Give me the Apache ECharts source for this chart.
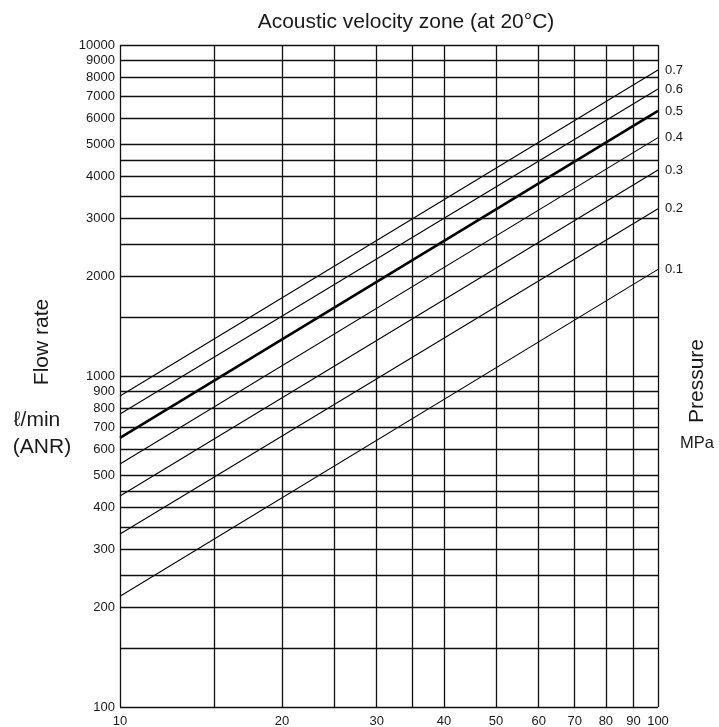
<!DOCTYPE html>
<html>
<head>
<meta charset="utf-8">
<script src="https://cdn.jsdelivr.net/npm/echarts@6/dist/echarts.min.js"></script>
<style>
html,body{margin:0;padding:0;background:#fff;}
#chart{width:719px;height:727px;}
</style>
</head>
<body>
<div id="chart"></div>
<script>
// Pressure lines (MPa): flow rate at x=10 and x=100
var pressures = ['0.1','0.2','0.3','0.4','0.5','0.6','0.7'];
var xEnds = [10, 100];
var flowAt10 = [216, 333, 434, 542, 650, 768, 870];
var flowAt100 = [2100, 3200, 4190, 5250, 6320, 7360, 8400];

// grid lines
var xGridValues = [10, 15, 20, 25, 30, 35, 40, 50, 60, 70, 80, 90, 100];
var xTickLabels = [10, 20, 30, 40, 50, 60, 70, 80, 90, 100];
var yGridValues = [100, 150, 200, 250, 300, 350, 400, 450, 500, 600, 700, 800, 900, 1000,
  1500, 2000, 2500, 3000, 3500, 4000, 4500, 5000, 6000, 7000, 8000, 9000, 10000];
var yTickLabels = [100, 200, 300, 400, 500, 600, 700, 800, 900, 1000,
  2000, 3000, 4000, 5000, 6000, 7000, 8000, 9000, 10000];

var FONT = 'Liberation Sans, Arial, sans-serif';
var TXT = '#1a1a1a';
var TICK = 13;

var chart = echarts.init(document.getElementById('chart'));

var markLineData = [];
xGridValues.forEach(function (v) {
  var lab = xTickLabels.indexOf(v) >= 0;
  markLineData.push({
    xAxis: v,
    lineStyle: { color: '#111', width: 1.3, type: 'solid' },
    label: lab ? { show: true, position: 'start', formatter: String(v), distance: 8,
      fontSize: TICK, fontFamily: FONT, color: TXT } : { show: false }
  });
});
yGridValues.forEach(function (v) {
  var lab = yTickLabels.indexOf(v) >= 0;
  markLineData.push({
    yAxis: v,
    lineStyle: { color: '#111', width: 1.3, type: 'solid' },
    label: lab ? { show: true, position: 'start', formatter: String(v), distance: 5,
      fontSize: TICK, fontFamily: FONT, color: TXT } : { show: false }
  });
});

var series = [{
  type: 'line',
  data: [],
  silent: true,
  markLine: {
    silent: true,
    symbol: ['none', 'none'],
    animation: false,
    data: markLineData
  }
}];

pressures.forEach(function (p, i) {
  series.push({
    name: p,
    type: 'line',
    silent: true,
    showSymbol: false,
    symbol: 'none',
    animation: false,
    data: [[xEnds[0], flowAt10[i]], [xEnds[1], flowAt100[i]]],
    lineStyle: { color: '#000', width: p === '0.5' ? 2.6 : 1.1 },
    endLabel: { show: true, formatter: p, distance: 7, fontSize: TICK,
      fontFamily: FONT, color: TXT }
  });
});

chart.setOption({
  animation: false,
  backgroundColor: '#fff',
  grid: { left: 120, right: 61, top: 45, bottom: 20 },
  xAxis: {
    type: 'log', logBase: 10, min: 10, max: 100,
    axisLine: { show: false }, axisTick: { show: false },
    axisLabel: { show: false }, splitLine: { show: false }
  },
  yAxis: {
    type: 'log', logBase: 10, min: 100, max: 10000,
    axisLine: { show: false }, axisTick: { show: false },
    axisLabel: { show: false }, splitLine: { show: false }
  },
  series: series,
  graphic: [
    { type: 'text', x: 406, y: 22,
      style: { text: 'Acoustic velocity zone (at 20\u00B0C)', font: '21px ' + FONT, fill: TXT, align: 'center', verticalAlign: 'middle' } },
    { type: 'text', x: 42, y: 342, rotation: Math.PI / 2,
      style: { text: 'Flow rate', font: '21px ' + FONT, fill: TXT, align: 'center', verticalAlign: 'middle' } },
    { type: 'text', x: 37, y: 420,
      style: { text: '\u2113/min', font: '21px ' + FONT, fill: TXT, align: 'center', verticalAlign: 'middle' } },
    { type: 'text', x: 42, y: 447,
      style: { text: '(ANR)', font: '21px ' + FONT, fill: TXT, align: 'center', verticalAlign: 'middle' } },
    { type: 'text', x: 697, y: 381, rotation: Math.PI / 2,
      style: { text: 'Pressure', font: '21px ' + FONT, fill: TXT, align: 'center', verticalAlign: 'middle' } },
    { type: 'text', x: 697, y: 443,
      style: { text: 'MPa', font: '16.5px ' + FONT, fill: TXT, align: 'center', verticalAlign: 'middle' } }
  ]
});
</script>
</body>
</html>
